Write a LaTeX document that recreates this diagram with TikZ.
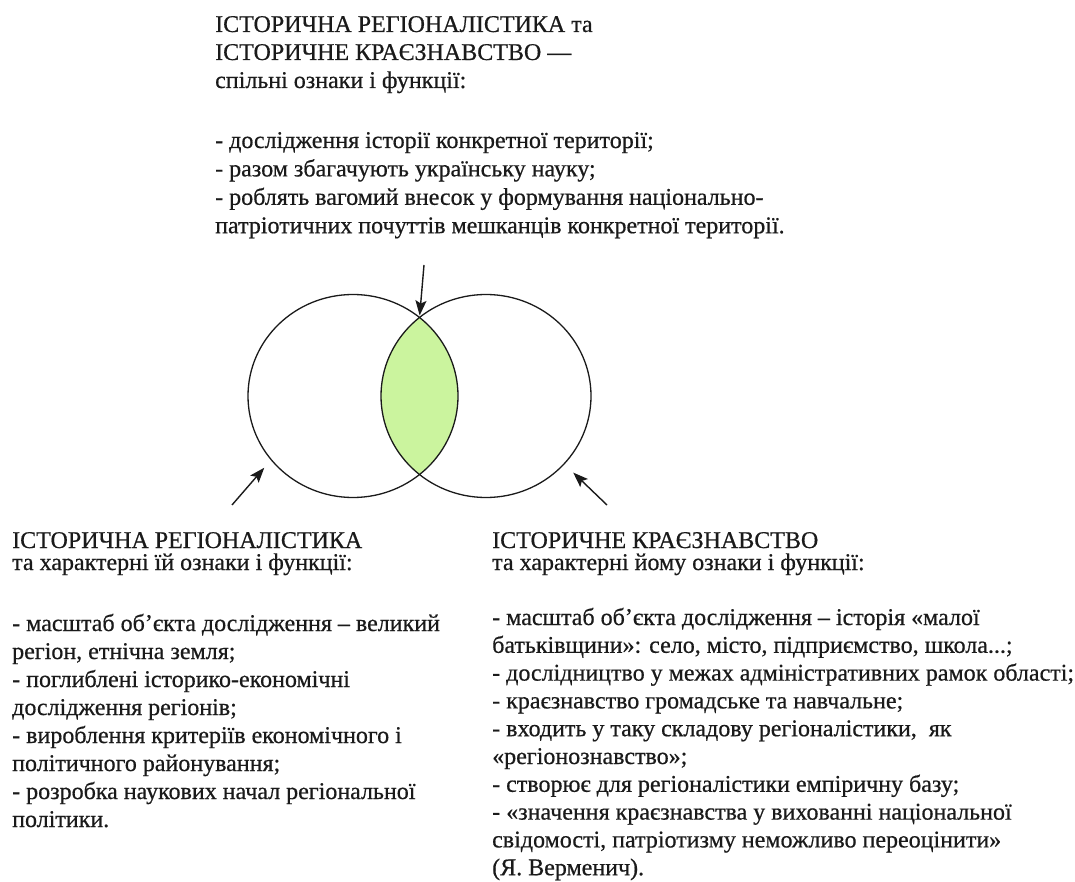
\documentclass[tikz,border=0pt]{standalone}
\usepackage{fontspec}
\setmainfont{Liberation Serif}[FakeBold=0.6]
\usetikzlibrary{arrows.meta,shapes.geometric}
\definecolor{lens}{HTML}{CBF49E}
\definecolor{ink}{HTML}{1A1A1A}
\newcommand{\lines}[2]{{\fontsize{24}{#1}\selectfont\begin{tabular}[t]{@{}l@{}}#2\end{tabular}}}
\tikzset{
  txt/.style={anchor=base west, inner sep=0pt, text=ink, font=\fontsize{24}{28}\selectfont},
  ring/.style={draw=ink, line width=1.3pt, ellipse, minimum width=210pt, minimum height=203pt, inner sep=0pt},
  pointer/.style={draw=ink, line width=1.4pt, -{Stealth[length=15pt,width=11pt,inset=3pt]}}
}
\begin{document}
\begin{tikzpicture}[x=1pt,y=-1pt]
\useasboundingbox (0,0) rectangle (1075,882);
% top text
\node[txt] (toptitle) at (215,32) {\lines{28}{ІСТОРИЧНА РЕГІОНАЛІСТИКА та\\
ІСТОРИЧНЕ КРАЄЗНАВСТВО —\\
спільні ознаки і функції:}};
\node[txt] (toplist) at (215,148) {\lines{28.4}{- дослідження історії конкретної території;\\
- разом збагачують українську науку;\\
- роблять вагомий внесок у формування національно-\\
патріотичних почуттів мешканців конкретної території.}};
% circles
\begin{scope}
  \clip (353,396) ellipse [x radius=105, y radius=101.5];
  \fill[lens] (486,396) ellipse [x radius=105, y radius=101.5];
\end{scope}
\node[ring] (L) at (353,396) {};
\node[ring] (R) at (486,396) {};
\coordinate (itop) at (419.5,317.5);
\coordinate (ttop) at (424,265);
\coordinate (tl) at (232,505);
\coordinate (tr) at (607,505);
\draw[pointer, shorten >=2pt] (ttop) -- (itop);
\draw[pointer, shorten >=10pt] (tl) -- (L.218);
\draw[pointer, shorten >=12pt] (tr) -- (R.-41);
% left text
\node[txt] (ltitle) at (12,548) {ІСТОРИЧНА РЕГІОНАЛІСТИКА};
\node[txt] (lsub) at (12,570) {та характерні їй ознаки і функції:};
\node[txt] (llist) at (12,631) {\lines{28}{- масштаб об’єкта дослідження – великий\\
регіон, етнічна земля;\\
- поглиблені історико-економічні\\
дослідження регіонів;\\
- вироблення критеріїв економічного і\\
політичного районування;\\
- розробка наукових начал регіональної\\
політики.}};
% right text
\node[txt] (rtitle) at (492,548) {ІСТОРИЧНЕ КРАЄЗНАВСТВО};
\node[txt] (rsub) at (492,570) {та характерні йому ознаки і функції:};
\node[txt] (rlist) at (492,625) {\lines{27.8}{- масштаб об’єкта дослідження – історія «малої\\
батьківщини»: село, місто, підприємство, школа...;\\
- дослідництво у межах адміністративних рамок області;\\
- краєзнавство громадське та навчальне;\\
- входить у таку складову регіоналістики,~ як\\
«регіонознавство»;\\
- створює для регіоналістики емпіричну базу;\\
- «значення краєзнавства у вихованні національної\\
свідомості, патріотизму неможливо переоцінити»\\
(Я. Верменич).}};
\end{tikzpicture}
\end{document}
